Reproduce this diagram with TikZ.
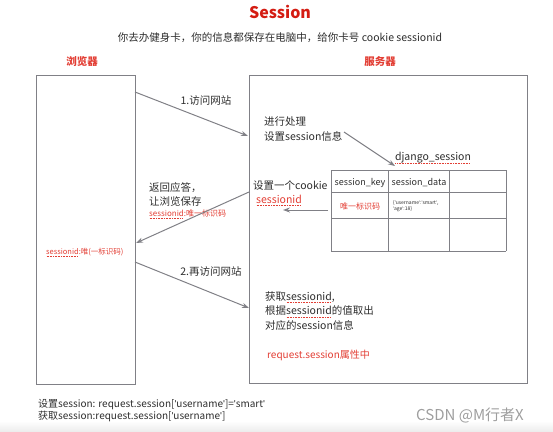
\documentclass[tikz,border=0pt]{standalone}
\usepackage{fontspec}
\setmainfont{Noto Sans CJK SC}
\newfontfamily\quotefont{Liberation Sans}
\usetikzlibrary{arrows.meta}
\definecolor{linegray}{RGB}{128,128,134}
\definecolor{textgray}{RGB}{45,45,45}
\definecolor{textred}{RGB}{226,62,52}
\definecolor{titlered}{RGB}{212,28,18}
\newcommand\spellmark[1]{\sbox0{#1}\rlap{\usebox0}{\color{textred}\raisebox{-2.2pt}{\leaders\hbox to 1.6pt{\hss\rule{1pt}{0.5pt}\hss}\hskip\wd0}}}
\newcommand\sq{{\quotefont\char"0027}}
\begin{document}
\begin{tikzpicture}[x=1pt,y=-1pt,
  box/.style={draw=linegray, line width=1pt},
  msg/.style={draw=linegray, line width=1pt, -{Stealth[length=7pt,width=5pt]}},
  txt/.style={text=textgray, inner sep=0pt, align=left, font=\fontsize{10.5}{14.5}\selectfont},
  redtxt/.style={text=textred, inner sep=0pt, align=left}]
\useasboundingbox (0,0) rectangle (553,431);
\shade[top color=white, bottom color=black!7] (0,421) rectangle (553,431);
% titles
\node[text=titlered, font=\bfseries\fontsize{16}{18}\selectfont] (title) at (280,12) {Session};
\node[txt] (story) at (280,38) {你去办健身卡，你的信息都保存在电脑中，给你卡号 cookie sessionid};
\node[redtxt, font=\bfseries\fontsize{10.5}{12}\selectfont] (browserhead) at (82,62) {浏览器};
\node[redtxt, font=\bfseries\fontsize{10.5}{12}\selectfont] (serverhead) at (380,62) {服务器};
% the two boxes
\node[box, anchor=north west, minimum width=99.5pt, minimum height=309pt] (browser) at (35.5,75) {};
\node[box, anchor=north west, minimum width=278pt, minimum height=308pt] (server) at (249,75) {};
% django_session table
\foreach \x in {331,388,449,506} \draw[box] (\x,170) -- (\x,251);
\foreach \y in {170,192,218,251} \draw[box] (331,\y) -- (506,\y);
\node[txt, font=\fontsize{9}{10}\selectfont] (keyhead) at (360,183) {session\_key};
\node[txt, font=\fontsize{9}{10}\selectfont] (datahead) at (419,183) {session\_data};
\node[redtxt, font=\fontsize{8}{9}\selectfont] (keycell) at (360,206) {唯一标识码};
\node[txt, anchor=west, font=\fontsize{5}{6.5}\selectfont] (datacell) at (393,206) {\{\sq username\sq:\sq smart\sq,\\\sq age\sq:18\}};
\node[txt, font=\fontsize{10.5}{12}\selectfont] (django) at (433,158) {\spellmark{django\_session}};
% texts in the boxes
\node[txt, anchor=west] (process) at (264,129) {进行处理\\设置session信息};
\node[txt, anchor=west] (setcookie) at (253,193) {设置一个cookie\\\hspace{3pt}\textcolor{textred}{\spellmark{sessionid}}};
\node[txt, anchor=west] (reply) at (149,194.5) {返回应答，\\让浏览保存};
\node[redtxt, anchor=west, font=\fontsize{8}{9}\selectfont] (replyid) at (149,214) {\spellmark{sessionid}:唯一标识码};
\node[redtxt, anchor=west, font=\fontsize{7.5}{9}\selectfont] (storedid) at (46,252) {\spellmark{sessionid}:唯(一标识码)};
\node[txt, anchor=west] (fetch) at (265,311) {获取\spellmark{sessionid},\\根据\spellmark{sessionid}的值取出\\对应的session信息};
\node[redtxt, anchor=west, font=\fontsize{10}{12}\selectfont] (reqattr) at (267,355) {request.session属性中};
\node[txt] (step1) at (206,101) {1.访问网站};
\node[txt] (step2) at (211,272) {2.再访问网站};
% notes below
\node[txt, anchor=west, font=\fontsize{10}{12.5}\selectfont] (usage) at (38,410.5) {设置session: request.session[\sq username\sq]=\sq smart\sq\\获取session:request.session[\sq username\sq]};
\node[text=black!38, inner sep=0pt, font=\fontsize{15}{16}\selectfont] (mark) at (470,415) {CSDN @M行者X};
% messages
\coordinate (out1) at (135,92);
\coordinate (in1) at (248,136);
\coordinate (procout) at (344,132);
\coordinate (tablein) at (395,166);
\coordinate (keyout) at (328,210);
\coordinate (cookiein) at (283,210);
\coordinate (replyout) at (249,192);
\coordinate (replyin) at (136,243);
\coordinate (out2) at (135,262);
\coordinate (in2) at (249,308);
\draw[msg] (out1) -- (in1);
\draw[msg] (procout) -- (tablein);
\draw[msg] (keyout) -- (cookiein);
\draw[msg] (replyout) -- (replyin);
\draw[msg] (out2) -- (in2);
\end{tikzpicture}
\end{document}
